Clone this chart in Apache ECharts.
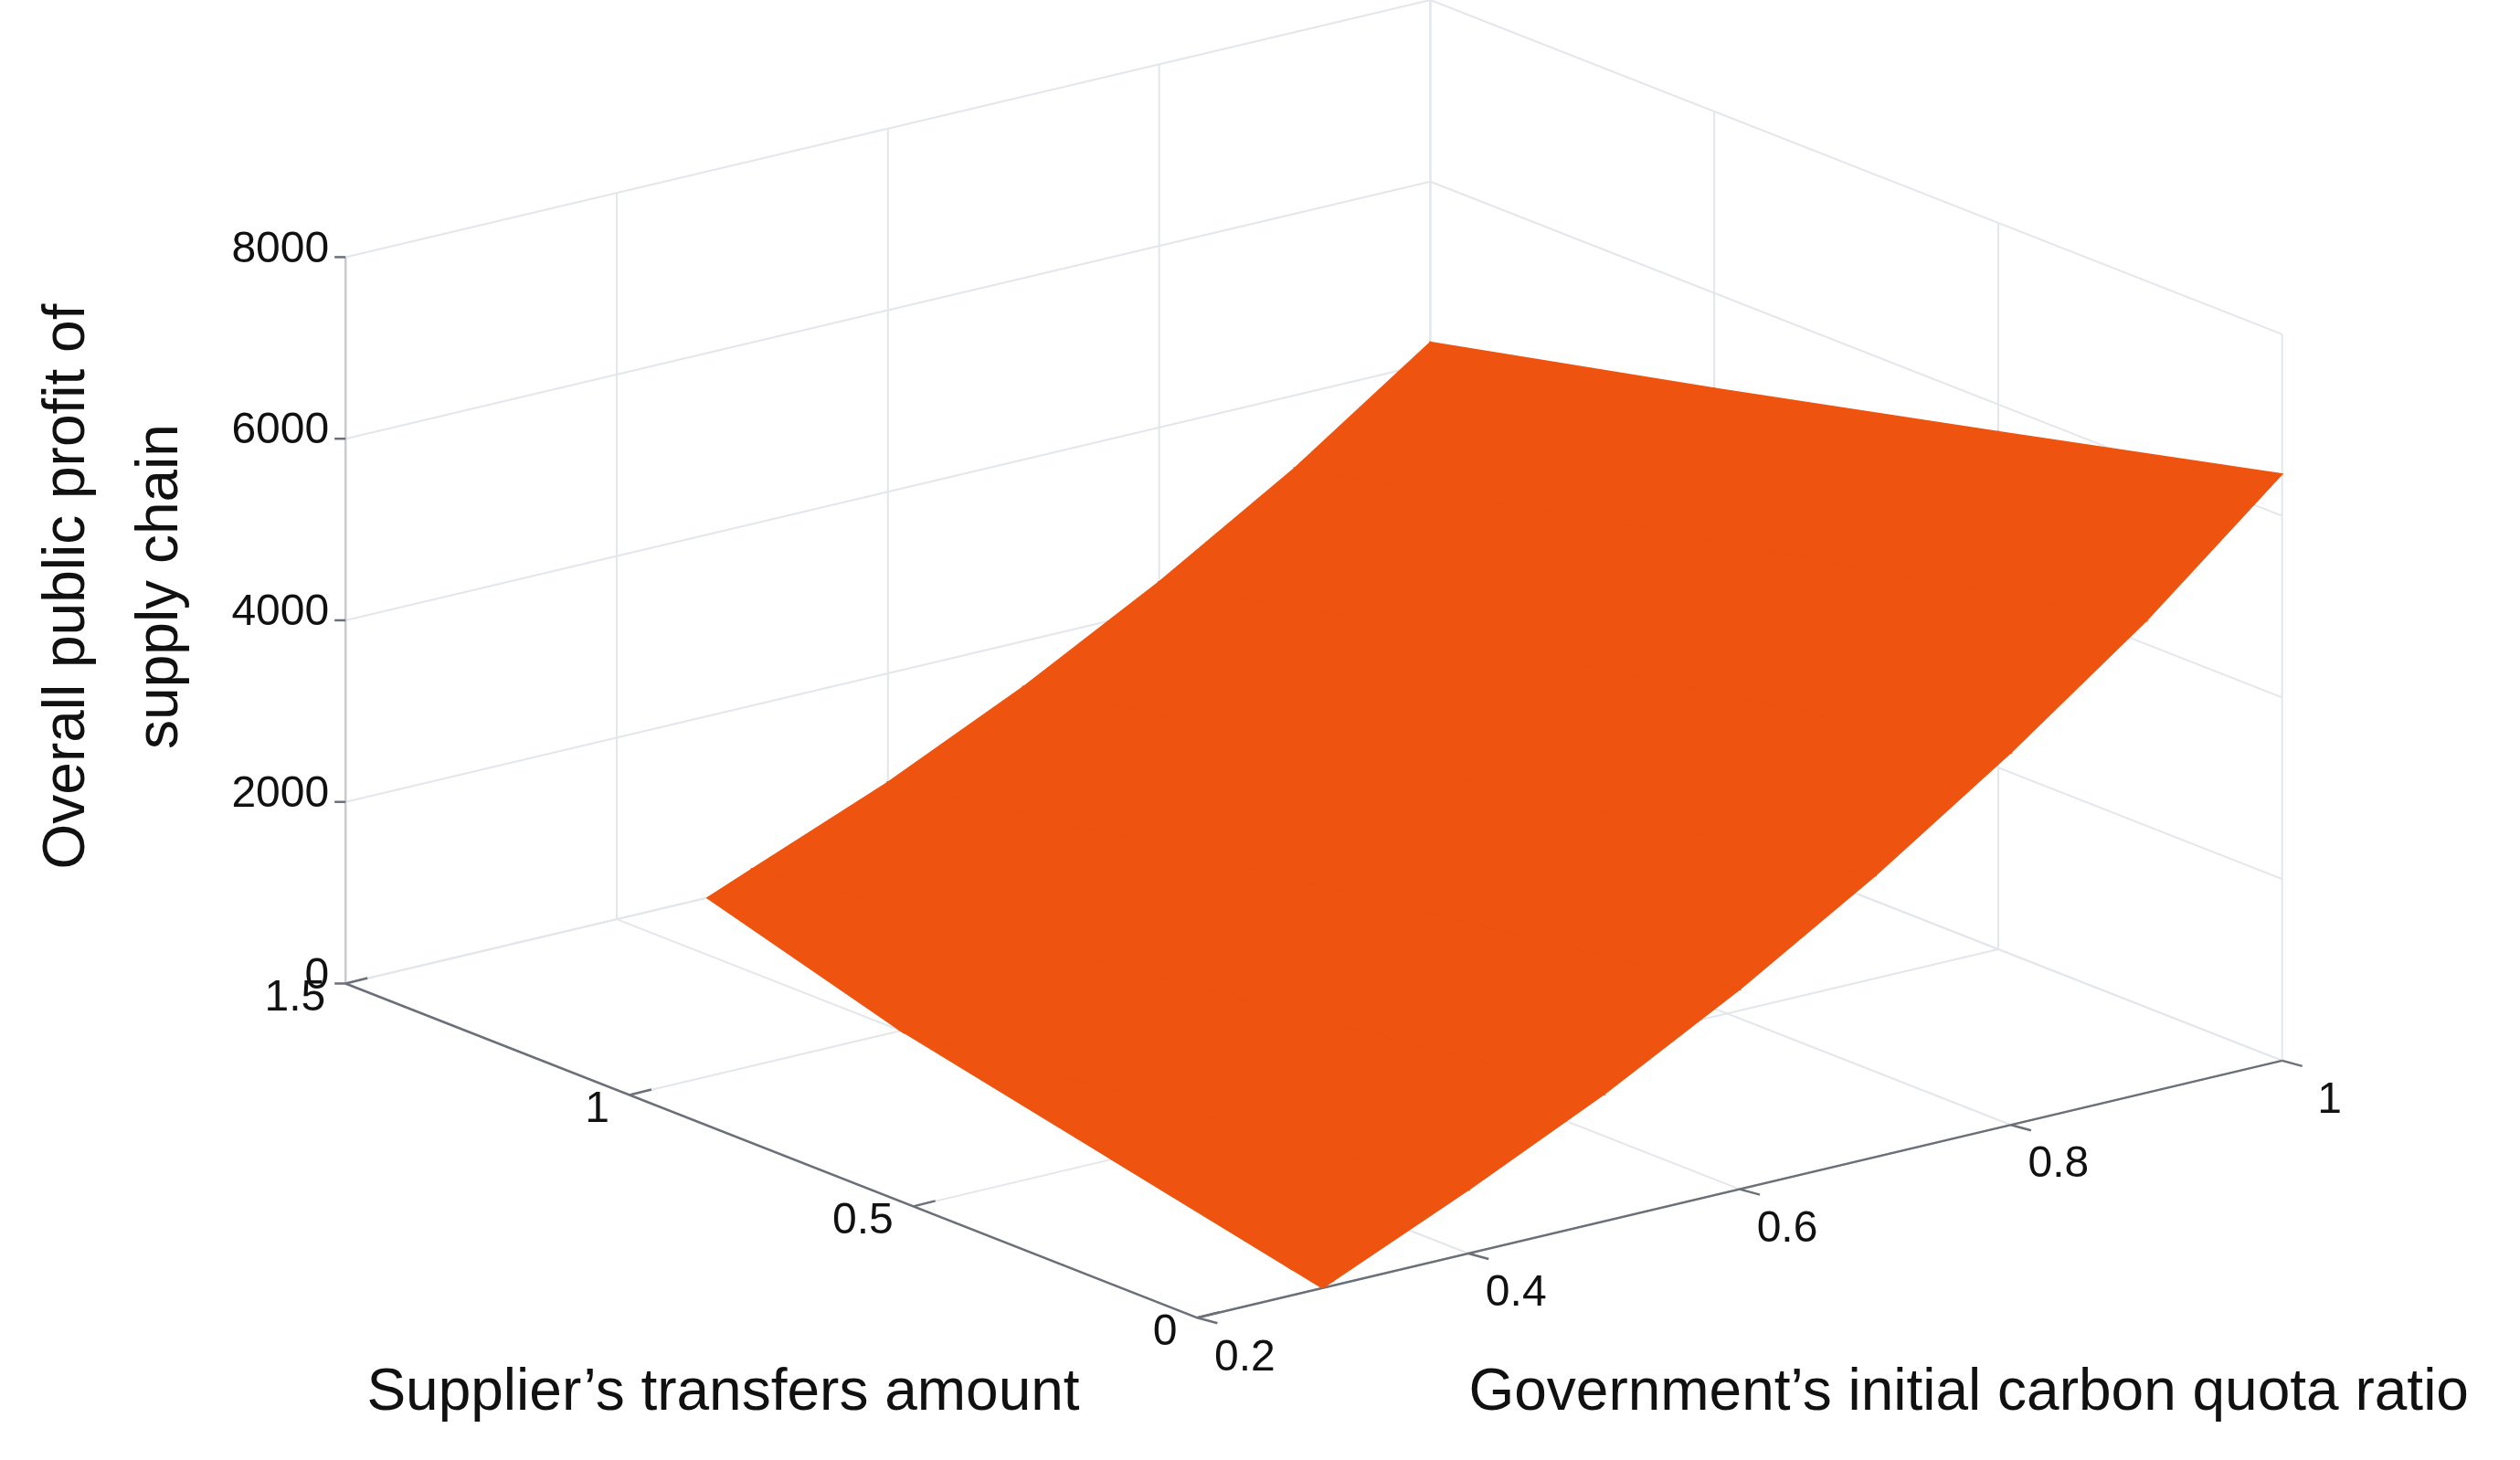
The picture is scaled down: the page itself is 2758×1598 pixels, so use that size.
<!DOCTYPE html>
<html><head><meta charset="utf-8">
<script src="https://cdn.jsdelivr.net/npm/echarts@6/dist/echarts.min.js"></script>
<style>html,body{margin:0;padding:0;background:#fff}#c{width:2758px;height:1598px}</style>
</head><body><div id="c"></div>
<script>
const ratios=[0.2,0.3,0.4,0.5,0.6,0.7,0.8,0.9,1.0];
const transfers=[0,0.5,1,1.5];
const profitT0=[-600,50,700,1400,2200,3100,4100,5200,6460];
const profitT05=[-900,-300,350,1000,1750,2600,3500,4550,5700];
const profitT1=[-1200,-650,0,600,1300,2100,2950,3900,4950];
const profitT15=[-1500,-1000,-400,200,800,1500,2300,3200,4230];
const profitRows=[profitT0,profitT05,profitT1,profitT15];
const zTicks=[0,2000,4000,6000,8000];
const ratioTicks=[0.2,0.4,0.6,0.8,1];
const transferTicks=[0,0.5,1,1.5];

const S=2758/1568;
function proj(r,t,z){
  const X=745+(r-0.2)/0.8*675-t/1.5*530;
  const Y=820-(r-0.2)/0.8*160-t/1.5*208-z/8000*452;
  return [X*S,Y*S];
}
function clip(poly){
  const out=[];
  for(let i=0;i<poly.length;i++){
    const a=poly[i],b=poly[(i+1)%poly.length];
    const ia=a[2]>=0,ib=b[2]>=0;
    if(ia)out.push(a);
    if(ia!==ib){const f=a[2]/(a[2]-b[2]);out.push([a[0]+f*(b[0]-a[0]),a[1]+f*(b[1]-a[1]),0]);}
  }
  return out;
}
function renderItem(){
  const ch=[];
  const grid='#e3e6ea',axis='#6b6f78';
  const line=(p,q,c,w)=>ch.push({type:'line',shape:{x1:p[0],y1:p[1],x2:q[0],y2:q[1]},style:{stroke:c,lineWidth:w}});
  // back wall t=1.5
  zTicks.forEach(z=>line(proj(0.2,1.5,z),proj(1,1.5,z),grid,2));
  ratioTicks.forEach(r=>line(proj(r,1.5,0),proj(r,1.5,8000),grid,2));
  // right wall r=1
  zTicks.forEach(z=>line(proj(1,0,z),proj(1,1.5,z),grid,2));
  transferTicks.forEach(t=>line(proj(1,t,0),proj(1,t,8000),grid,2));
  // floor
  ratioTicks.forEach(r=>line(proj(r,0,0),proj(r,1.5,0),grid,2));
  transferTicks.forEach(t=>line(proj(0.2,t,0),proj(1,t,0),grid,2));
  // axes
  line(proj(0.2,0,0),proj(1,0,0),axis,2.5);
  line(proj(0.2,0,0),proj(0.2,1.5,0),axis,2.5);
  line(proj(0.2,1.5,0),proj(0.2,1.5,8000),'#c8ccd2',2.5);
  // ticks
  ratioTicks.forEach(r=>{const p=proj(r,0,0);line(p,[p[0]+22,p[1]+6],axis,2.5);});
  transferTicks.forEach(t=>{const p=proj(0.2,t,0);line(p,[p[0]+24,p[1]-6],axis,2.5);});
  zTicks.forEach(z=>{const p=proj(0.2,1.5,z);line([p[0]-12,p[1]],p,axis,2.5);});
  // surface
  for(let j=0;j<transfers.length-1;j++)for(let i=0;i<ratios.length-1;i++){
    const a=[ratios[i],transfers[j],profitRows[j][i]],b=[ratios[i+1],transfers[j],profitRows[j][i+1]],
      c=[ratios[i+1],transfers[j+1],profitRows[j+1][i+1]],d=[ratios[i],transfers[j+1],profitRows[j+1][i]];
    [[a,b,c],[a,c,d]].forEach(tri=>{
      const pl=clip(tri);
      if(pl.length>=3)ch.push({type:'polygon',shape:{points:pl.map(p=>proj(p[0],p[1],p[2]))},style:{fill:'#EE540F',stroke:'#EE540F',lineWidth:1.5}});
    });
  }
  const font=(s)=>s+'px "Liberation Sans", Arial, sans-serif';
  const txt=(x,y,s,size,align,rot)=>ch.push({type:'text',x:x,y:y,rotation:rot||0,style:{text:s,font:font(size),fill:'#111',align:align,verticalAlign:'middle'}});
  zTicks.forEach(z=>{const p=proj(0.2,1.5,z);txt(p[0]-18,p[1]-8,String(z),48,'right');});
  transferTicks.forEach(t=>{const p=proj(0.2,t,0);txt(p[0]-22,p[1]+16,String(t),48,'right');});
  ratioTicks.forEach(r=>{const p=proj(r,0,0);txt(p[0]+52,p[1]+44,String(r),48,'center');});
  txt(450*S,867*S,'Supplier\u2019s transfers amount',64,'center');
  txt(1225*S,867*S,'Government\u2019s initial carbon quota ratio',64,'center');
  txt(42*S,365*S,'Overall public profit of',64,'center',Math.PI/2);
  txt(100*S,365*S,'supply chain',64,'center',Math.PI/2);
  return {type:'group',children:ch};
}
const chart=echarts.init(document.getElementById('c'));
chart.setOption({animation:false,series:[{type:'custom',coordinateSystem:'none',data:[0],renderItem:renderItem}]});
</script></body></html>
